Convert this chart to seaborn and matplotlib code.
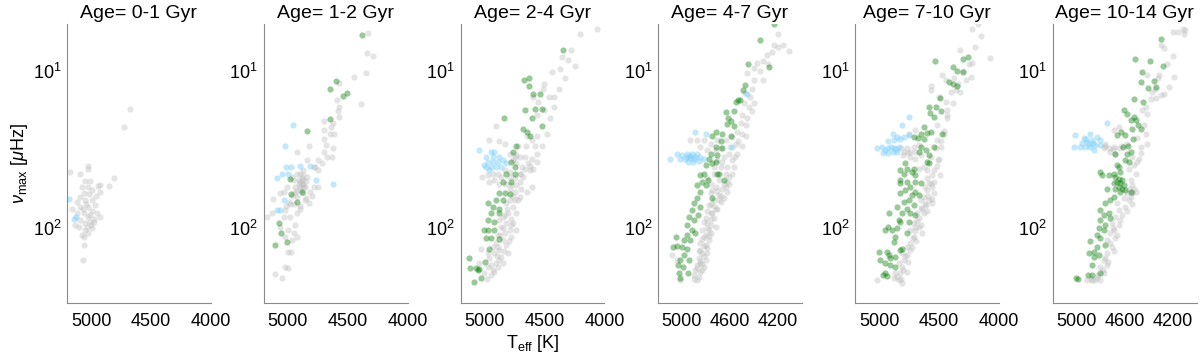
import numpy as np
import pandas as pd
import matplotlib
matplotlib.use("Agg")
import matplotlib.pyplot as plt
import matplotlib.ticker as mticker
import seaborn as sns

# ---------------- data (Teff [K], numax [muHz]) ----------------
age_bins = ["0-1", "1-2", "2-4", "4-7", "7-10", "10-14"]

gray_0 = [(4672,17.5),(4728,22.6),(4811,48),(4853,54),(4922,53),(4922,59),(4944,54),(5172,44),
          (5028,40),(5028,42),(5089,45),(5047,50),(5011,50),(5075,54.5),(5028,54.5),(4992,57),
          (5061,60),(5019,61),(5089,63),(5047,66),(4992,66),(5117,68),(5158,75),(5089,73),
          (5028,73),(4964,71),(4992,78),(5061,80),(5117,80),(4950,80),(5028,85),(5089,89),
          (4978,87),(5047,93),(5005,92),(4922,85),(5103,98),(5047,103),(4992,100),(5075,111),
          (5028,108),(5061,114),(5055,128),(5067,160),(5131,95),(4972,91),(5040,70),(5010,82),
          (5070,76),(5000,95),(5035,98),(4960,62)]
blue_0 = [(5180,65),(5139,87),(5122,85)]
green_0 = []

gray_1 = [(4330,5.7),(4339,7.7),(4289,8),(4344,10.2),(4442,10.9),(4567,11.8),(4589,15.3),
          (4567,16.9),(4575,19.5),(4386,16.2),(4700,20.7),(4639,22.6),(4617,21.5),(4700,23.8),
          (4611,25),(4678,29.5),(4700,32.6),(4617,31),(4631,35),(4672,35),(4742,37),(4714,38.7),
          (4783,41),(4839,37),(4867,42.7),(4922,32.6),(4825,30),(4894,45),(4908,49.5),(4867,52),
          (4936,54.5),(4894,54.5),(4944,49),(4941,60),(4811,58.5),(4783,54.5),(4742,54.5),
          (5006,54.5),(5033,58.5),(4825,69.6),(4853,66),(4978,70),(5061,60),(5117,65),(5172,85),
          (5131,80),(5019,77),(5033,85),(4978,85),(4922,80),(4894,76),(4936,96),(4992,103),
          (4950,108),(4922,114),(4964,119),(5019,114),(5061,98),(4992,141),(4972,141),(5019,176),
          (5000,180),(5103,196),(5047,209),(4922,63),(4867,60),(4964,47),(4922,45),(4880,48),
          (4839,47),(4769,40.7),(4742,42.7),(4894,51),(4867,49.5),(4908,52),(4853,54.5),
          (4880,52),(4860,55),(4900,57),(4845,50),(4870,46),(4930,58),(4960,62),(4990,68),
          (5010,72),(4950,70),(4900,72),(4850,64),(4800,62),(4700,27),(4650,25),(4580,18)]
blue_1 = [(4956,22),(5019,30),(5011,40.7),(4972,40.7),(5047,45),(5089,48),(5000,45),(4894,40),
          (4811,40),(4761,49),(4622,52),(5033,66),(5061,77),(5089,77)]
green_1 = [(4383,5.9),(4594,11.5),(4650,12.9),(4539,14.4),(4505,13.7),(4650,20.3),(4839,24),
           (4978,48.7),(4972,61),(4880,58.5),(4922,68),(5069,93),(5056,108),(5103,128),(5006,122)]

gray_2 = [(4062,5.4),(4206,5.8),(4282,7.35),(4353,8.1),(4249,9.2),(4373,9.7),(4438,10.1),
          (4508,12),(4513,12.9),(4460,14.6),(4424,14.7),(4593,14.6),(4551,15.7),(4503,17.7),
          (4565,19),(4904,22.5),(4650,26),(4607,27.5),(4565,26),(4579,30),(4655,30),(4565,33.5),
          (4607,36),(4664,35),(4706,35),(4636,38.7),(4684,40.7),(4734,38.7),(4621,42.7),(4706,45),
          (4791,33.5),(4833,29),(4876,28),(4734,34),(4791,44),(4833,42.7),(4706,50.7),(4734,53),
          (4777,53),(4692,56),(4749,58.5),(4791,66),(4749,66),(4706,63),(4819,69.6),(4763,73),
          (4805,80.6),(4847,84.7),(4777,87),(4819,93),(4861,98),(4791,103),(4833,108),(4890,111),
          (4777,114),(4847,119),(4904,125),(4819,128),(4932,131),(4876,138),(4918,145),(4861,152),
          (4960,156),(4904,168),(4975,176),(4932,185),(5003,194),(5031,135),(4975,145),(4946,172),
          (5045,168),(4890,176),(5017,47),(4975,46),(4932,45),(4890,45),(4861,47),(4819,52),
          (4876,52),(4918,49.5),(4961,50.7),(4749,48),(4791,47),(4960,27.5),(4749,35),(4763,37),
          (4720,30),(4607,54.5),(4650,58.5),(4720,66),(4734,80.6),(4876,89),(4763,93),(4734,103),
          (4805,145),(4847,168),(4890,131),(4790,56),(4760,62),(4810,75),(4830,82),(4780,95),
          (4850,100),(4800,120),(4870,110),(4840,140),(4900,150),(4880,160),(4920,190),(4950,200),
          (4980,210),(4700,45),(4680,47),(4660,42),(4620,40),(4600,42),(4560,38),(4520,30),
          (4480,25),(4450,20),(4420,17),(4380,13),(4330,11),(4300,8.5)]
blue_2 = [(5045,31.8),(4946,32.6),(4918,32.6),(4989,35),(4932,35),(4876,35),(4975,38),(4932,38),
          (4890,38),(4847,37),(4819,38.7),(4989,40.7),(4946,40.7),(4904,40.7),(4861,40.7),
          (4960,42.7),(5003,39.7)]
green_2 = [(4345,7.3),(4672,11.3),(4633,11.1),(4627,12.4),(4593,13.9),(4537,14),(4664,17.7),
           (4579,17.3),(4520,17.5),(4839,20),(4607,19.8),(4678,23.2),(4644,24.4),(4621,25.7),
           (4517,22.5),(4740,30),(4763,32.6),(4777,38),(4749,40.7),(4819,44.9),(4749,44.9),
           (4777,50.7),(4847,50.7),(4876,59.7),(4833,59.5),(4791,61),(4847,66),(4904,66),(4975,69.6),
           (4932,73),(4876,75),(4946,80.6),(4876,80.6),(4975,89),(4918,91),(5003,103),(4975,103),
           (4918,103),(4989,115),(4946,115),(4876,117),(4961,135),(4994,164),(5130,156),(5121,180),
           (5073,180),(5051,185),(5031,209),(5088,220),(5045,183)]

gray_3 = [(4197,5.76),(4111,7.45),(4231,6.8),(4292,7.9),(4323,8.6),(4371,8.9),(4404,9.6),
          (4323,11.3),(4399,11.4),(4455,10.3),(4413,12.9),(4477,13.7),(4435,14.6),(4483,16),
          (4399,16),(4441,16.9),(4497,19),(4455,20),(4511,21.5),(4539,24.3),(4580,26.2),(4497,25),
          (4553,28.9),(4600,30.3),(4608,33.5),(4650,35.1),(4580,36.9),(4539,33.5),(4622,40.7),
          (4566,40.7),(4678,40.7),(4636,44.9),(4580,44.9),(4734,44.9),(4692,49.5),(4622,50.7),
          (4720,54.5),(4664,56),(4622,58.7),(4762,60),(4692,61.7),(4734,66.3),(4678,68),(4776,71.4),
          (4720,75),(4762,80.6),(4804,86.8),(4734,86.8),(4790,93.4),(4832,103),(4776,103),
          (4818,113.6),(4846,125),(4804,128),(4832,145),(4860,156),(4804,160),(4874,172),(4832,185),
          (4902,199),(4860,204),(5014,214),(5084,148),(5042,160),(4846,30.3),(4790,31.9),(4762,28.9),
          (4720,31.9),(4930,27.5),(4706,27.5),(4818,27.5),(4874,27.5),(4678,31),(4636,27.5),
          (4706,36.9),(4664,37.8),(4734,40.7),(4608,47),(4650,52),(4692,66),(4748,80.6),(4720,98),
          (4762,108),(4776,119),(4846,138),(4790,145),(4846,168),(4818,176),(4888,185),
          (4790,48),(4762,52),(4748,57),(4706,58),(4678,62),(4650,64),(4636,55),(4608,52),(4762,70),
          (4734,72),(4706,76),(4790,78),(4762,88),(4818,92),(4790,100),(4762,96),(4804,110),
          (4776,112),(4832,118),(4818,130),(4790,134),(4860,140),(4818,150),(4846,162),(4832,170),
          (4874,180),(4846,190),(4874,215),(4902,212),(4420,18),(4470,22),(4530,28),(4560,35),
          (4500,30),(4470,26),(4350,10),(4280,9),(4250,7.5),(4200,7),(4160,6.8)]
blue_3 = [(4888,24.3),(4804,25),(5103,36),(5042,33.7),(5000,34.3),(4958,33.7),(4916,33.5),
          (4874,33.7),(5014,36),(4972,36),(4930,35.5),(4888,35),(4846,35),(4952,37.8),(4908,37.8),
          (4860,37.2),(4818,36.5),(4455,14),(4580,30.3),(4930,34.5),(4900,36.2),(4960,35)]
green_3 = [(4231,5.0),(4348,6.3),(4446,9.0),(4273,9.4),(4477,12.2),(4488,13.1),(4516,15.2),
           (4547,15.7),(4533,15.2),(4631,18.2),(4566,18),(4614,19.8),(4589,20.7),(4628,21.7),
           (4566,22.4),(4720,24.3),(4748,26),(4664,25),(4594,26),(4678,28),(4720,30.3),(4664,31),
           (4762,33.5),(4706,34.3),(4776,36.5),(4748,38.4),(4720,37.8),(4796,39.5),(4818,44.9),
           (4785,49.5),(4832,50.7),(4874,53),(4796,53),(4846,58.7),(4650,49.5),(4874,64.7),
           (4902,69.6),(4852,73),(4916,76.8),(4869,82.6),(4944,84.7),(4902,89),(4958,95.7),
           (4916,103),(4888,108),(4958,111),(4930,119),(4986,119),(5000,131),(5042,130),(5076,131),
           (4958,135),(4980,148),(5014,160),(4944,160),(5036,172),(4992,176),(4952,194),(5028,194),
           (5014,209),(5048,114),(4846,46),(4748,64.7),(4706,44.9),(4692,44.9)]

gray_4 = [(4227,5.35),(4177,5.0),(4323,7.35),(4227,8.85),(4078,8.2),(4233,10.87),(4275,11.4),
          (4359,13.1),(4323,13.5),(4472,10.6),(4444,11.4),(4373,11),(4401,13.5),(4570,12.4),
          (4565,13.2),(4500,14.6),(4444,15.7),(4430,17.7),(4436,19),(4514,22),(4458,25),(4514,27.5),
          (4528,31),(4486,30.3),(4508,36.9),(4491,46),(4542,50.7),(4570,35),(4598,42.7),(4542,42.7),
          (4556,46),(4584,51.9),(4556,54.5),(4598,57.3),(4542,60),(4626,63.2),(4584,66.3),(4654,66.3),
          (4556,69.6),(4612,71.4),(4640,75),(4682,80.6),(4626,80.6),(4669,86.8),(4711,93.4),(4669,98),
          (4739,103),(4697,105),(4640,108),(4711,113.6),(4739,125),(4767,131.5),(4725,131.5),
          (4809,145),(4767,148),(4795,160),(4837,168),(4809,176),(4865,194),(4823,194),(4879,209),
          (4837,214),(4809,223),(4767,190),(5014,214),(4795,32.6),(4739,32.6),(4697,32.6),(4767,31),
          (4711,30.3),(4669,29.6),(4654,34.3),(4739,35.1),(4626,40.7),(4669,41.7),(4753,25),
          (4697,23.8),(4600,48),(4570,52),(4620,55),(4590,62),(4560,65),(4620,70),(4650,74),
          (4600,78),(4680,90),(4650,95),(4700,98),(4720,115),(4690,120),(4740,138),(4780,150),
          (4760,165),(4800,185),(4850,205),(4820,210),(4520,40),(4500,36),(4480,28),(4460,24),
          (4430,20),(4380,16),(4340,12),(4300,10),(4250,9),(4200,7),(4150,6),(4700,36),(4760,33),
          (4800,34),(4820,31)]
blue_4 = [(4753,19.7),(4809,22),(4885,25),(4851,26.2),(4921,28),(4879,27.5),(4829,27.2),
          (4795,26.2),(4753,25.6),(5020,31),(4978,30.3),(4949,31.9),(4921,31),(4879,31),(4837,30.3),
          (4963,33.2),(4921,33.2),(4885,32.6),(4851,32.6),(4900,30.5),(4860,31.5)]
green_4 = [(4261,8.1),(4303,8.4),(4536,8.6),(4387,9.4),(4354,9.95),(4298,10.1),(4416,11.7),
           (4387,12.1),(4354,12.4),(4491,14.9),(4584,16.9),(4528,16.9),(4486,17.9),(4576,18.4),
           (4542,19.5),(4621,22.6),(4654,25),(4604,24.7),(4570,24.3),(4711,26.3),(4677,26.7),
           (4621,27.2),(4472,25),(4542,30.3),(4654,30.3),(4612,31.9),(4669,32.6),(4584,34.3),
           (4598,37.8),(4584,38.7),(4781,38.7),(4823,42.7),(4767,41.7),(4711,41.7),(4795,44.9),
           (4725,43.8),(4697,46),(4823,49.5),(4767,50.7),(4697,50.7),(4654,51.9),(4739,54.5),
           (4823,51.9),(4781,57.3),(4697,58.7),(4823,60),(4725,61.7),(4669,61.7),(4753,66.3),
           (4795,68),(4851,73),(4711,71.4),(4767,75),(4739,80.6),(4809,80.6),(4697,82.6),(4913,80.6),
           (4837,89),(4753,91),(4823,91),(4921,98),(4893,103),(4851,100),(4767,108),(4865,113.6),
           (4949,103),(4871,122),(4809,135),(4823,138),(5000,141),(4930,142),(4913,148),(4907,156),
           (4865,152),(4992,160),(4949,168),(4907,172),(4865,176),(4963,199),(4930,202),(4949,194)]

gray_5 = [(4200,5.6),(4158,5.6),(4102,5.8),(4116,5.35),(4298,6.8),(4270,7.1),(4186,10.9),
          (4228,12.6),(4270,13.9),(4298,14.2),(4340,14.9),(4368,13.5),(4410,10.6),(4312,10.6),
          (4424,16.9),(4410,18.6),(4452,17.7),(4410,28.9),(4466,30.3),(4494,26.8),(4536,35.1),
          (4522,39.7),(4564,41.7),(4508,44.9),(4550,49.5),(4536,53),(4564,56),(4536,58.7),(4578,60),
          (4606,64.7),(4662,69.6),(4592,73),(4648,76.8),(4676,84.7),(4634,89),(4704,93.4),(4690,103),
          (4718,108),(4676,116),(4745,119),(4704,131.5),(4745,145),(4773,160),(4745,172),(4801,176),
          (4773,194),(4829,209),(4801,214),(4913,214),(4871,214),(4773,31),(4732,31),(4690,30.3),
          (4648,31),(4718,32.6),(4676,33.5),(4759,28.9),(4648,22.6),(4690,23.8),(4578,28.9),
          (4536,60),(4508,58.7),(4550,63.2),(4522,56),(4560,66),(4540,70),(4580,78),(4620,82),
          (4650,95),(4700,100),(4660,110),(4720,125),(4690,140),(4760,155),(4740,165),(4780,185),
          (4820,200),(4850,215),(4880,210),(4440,22),(4420,25),(4460,33),(4480,36),(4500,38),
          (4380,15),(4350,13),(4320,11),(4250,9),(4200,8),(4100,5.5),(4760,30),(4700,31.5),
          (4620,30)]
blue_5 = [(4745,21.5),(5011,25.6),(4941,26.8),(4885,25),(4871,27.5),(4829,26.2),(4801,27.5),
          (4913,28.2),(5025,30.3),(4969,30.3),(4927,30.3),(4885,30.3),(4843,29.6),(4801,29.6),
          (4955,28.5),(4899,29.2),(4857,31.6),(4920,27),(4860,28.5)]
green_5 = [(4292,6.2),(4513,8.3),(4387,8.6),(4278,9.2),(4452,10.1),(4354,11.5),(4466,11.7),
           (4404,12.7),(4340,12.6),(4522,15),(4446,15.7),(4606,17.7),(4578,18.7),(4522,19.5),
           (4508,20.5),(4550,20.5),(4488,21.9),(4536,23.2),(4466,23.2),(4592,25.6),(4662,25.6),
           (4628,24.3),(4527,27.2),(4572,30),(4611,30.3),(4676,33.5),(4580,33.7),(4547,32.6),
           (4592,36.9),(4564,37.8),(4662,39.7),(4801,43.8),(4787,46),(4732,46),(4690,44.9),
           (4648,40.7),(4634,43.8),(4676,47.1),(4648,48.3),(4620,49.5),(4662,50.7),(4690,51.9),
           (4634,51.9),(4606,53),(4648,54.5),(4620,56),(4592,57.3),(4676,56),(4745,56),(4634,58.7),
           (4550,58.7),(4690,63.2),(4718,66.3),(4759,69.6),(4801,76.8),(4732,80.6),(4773,82.6),
           (4718,86.8),(4801,89),(4759,95.7),(4815,100),(4773,103),(4829,111),(4807,116.4),
           (4759,128),(4891,121),(4829,131.5),(4857,141),(4896,145),(4815,148.6),(4857,152),
           (4871,172),(4908,199),(4871,199),(5003,209),(4986,212),(4801,194)]

gray_sets = [gray_0, gray_1, gray_2, gray_3, gray_4, gray_5]
blue_sets = [blue_0, blue_1, blue_2, blue_3, blue_4, blue_5]
green_sets = [green_0, green_1, green_2, green_3, green_4, green_5]

# ---------------- styling ----------------
sns.set_style("white")
plt.rcParams["font.family"] = ["Liberation Sans", "DejaVu Sans"]
plt.rcParams["mathtext.fontset"] = "custom"
plt.rcParams["mathtext.rm"] = "Liberation Sans"
plt.rcParams["mathtext.it"] = "Liberation Sans:italic"
plt.rcParams["mathtext.default"] = "regular"
plt.rcParams["text.color"] = "black"
plt.rcParams["axes.labelcolor"] = "black"
plt.rcParams["axes.titlecolor"] = "black"

W, H = 1200, 363
fig = plt.figure(figsize=(W / 100, H / 100), dpi=100)

lefts = [67, 263.5, 460.5, 658, 855, 1052.5]
ax_w = 144
ax_top, ax_bot = 24, 303
axis_col = "#8a8a8a"

col_gray = (0.74, 0.74, 0.74)
col_blue = (0.47, 0.8, 0.98)
col_green = (0.0, 0.47, 0.0)
msize = 20

def to_df(pts):
    if len(pts) == 0:
        return pd.DataFrame({"Teff": [], "numax": []})
    arr = np.array(pts, dtype=float)
    return pd.DataFrame({"Teff": arr[:, 0], "numax": arr[:, 1]})

for i in range(6):
    ax = fig.add_axes([lefts[i] / W, (H - ax_bot) / H, ax_w / W, (ax_bot - ax_top) / H])
    dg, db, dn = to_df(gray_sets[i]), to_df(blue_sets[i]), to_df(green_sets[i])
    if len(dg):
        sns.scatterplot(data=dg, x="Teff", y="numax", ax=ax, color=col_gray, alpha=0.4,
                        s=msize, linewidth=0, legend=False)
    if len(db):
        sns.scatterplot(data=db, x="Teff", y="numax", ax=ax, color=col_blue, alpha=0.45,
                        s=msize, linewidth=0, legend=False)
    if len(dn):
        sns.scatterplot(data=dn, x="Teff", y="numax", ax=ax, color=col_green, alpha=0.4,
                        s=msize, linewidth=0, legend=False)

    ax.set_yscale("log")
    ax.set_ylim(300, 5)
    ax.set_xlim(5200, 4000)
    ax.set_xlabel("")
    ax.set_ylabel("")

    ax.yaxis.set_major_locator(mticker.FixedLocator([10, 100]))
    ax.yaxis.set_major_formatter(mticker.FixedFormatter([r"$10^1$", r"$10^2$"]))
    ax.yaxis.set_minor_locator(mticker.FixedLocator([5, 6, 7, 8, 9, 20, 30, 40, 50, 60, 70, 80, 90, 200, 300]))
    ax.yaxis.set_minor_formatter(mticker.NullFormatter())

    if i in (3, 5):
        ax.xaxis.set_major_locator(mticker.FixedLocator([5000, 4800, 4600, 4400, 4200]))
        ax.xaxis.set_major_formatter(mticker.FixedFormatter(["5000", "", "4600", "", "4200"]))
    else:
        ax.xaxis.set_major_locator(mticker.FixedLocator([5000, 4500, 4000]))
        ax.xaxis.set_major_formatter(mticker.FixedFormatter(["5000", "4500", "4000"]))

    for side in ("top", "right"):
        ax.spines[side].set_visible(False)
    for side in ("left", "bottom"):
        ax.spines[side].set_color(axis_col)
        ax.spines[side].set_linewidth(0.8)

    ax.tick_params(axis="both", which="major", direction="in", length=3.5, width=0.7,
                   color=axis_col, labelsize=13, labelcolor="black", pad=6)
    ax.tick_params(axis="y", which="minor", direction="in", length=2.2, width=0.6, color=axis_col)
    ax.tick_params(axis="y", which="major", pad=4)
    ax.tick_params(axis="x", which="major", pad=7)

    ax.set_title(f"Age= {age_bins[i]} Gyr", fontsize=14, pad=4, color="black")

    if i == 0:
        ax.set_ylabel(r"$\it{\nu}_{\rm max}$ [$\it{\mu}$Hz]", fontsize=13, labelpad=2)
    if i == 2:
        ax.set_xlabel(r"T$_{\rm eff}$ [K]", fontsize=13, labelpad=2)

fig.savefig("out.png", dpi=100)
